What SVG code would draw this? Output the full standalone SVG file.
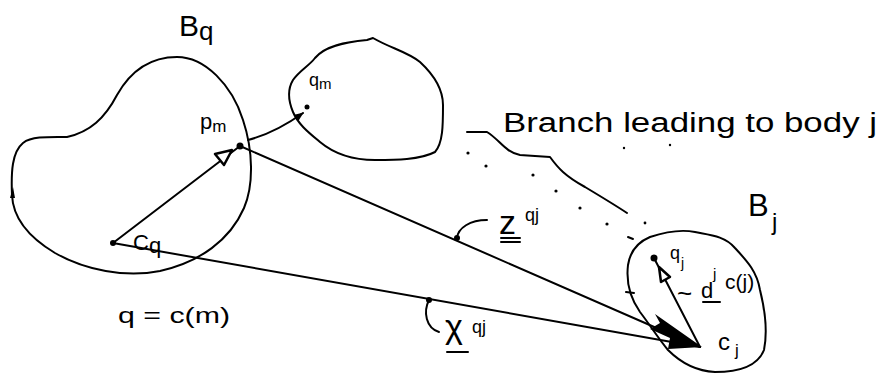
<svg xmlns="http://www.w3.org/2000/svg" width="882" height="374" viewBox="0 0 882 374">
<style>
.ln{fill:none;stroke:#000;stroke-width:2;stroke-linecap:round;stroke-linejoin:round}
.bd{fill:none;stroke:#000;stroke-width:2;stroke-linejoin:round}
.dot{fill:#000}
.t{font-family:"Liberation Sans","DejaVu Sans",sans-serif;fill:#000}
.tri{fill:#fff;stroke:#000;stroke-width:2.5;stroke-linejoin:round}
</style>
<defs>
<marker id="ah" viewBox="0 0 10 10" refX="9" refY="5" markerWidth="9" markerHeight="9" markerUnits="userSpaceOnUse" orient="auto">
<path d="M0,1 L10,5 L0,9 Z" fill="#000"/>
</marker>
</defs>
<rect width="882" height="374" fill="#fff"/>

<g id="body-Bq">
<path class="bd" d="M 67,137 C 90,132 105,118 117,95 C 130,72 150,57 177,57 C 205,57 232,85 243,120 C 253,150 254,185 244,208 C 230,240 200,262 160,271 C 125,278 85,270 55,253 C 30,238 13,220 12,195 C 11,172 12,152 23,143 C 32,136 50,137 67,137 Z"/>
<path d="M 10,198 L 13,187 L 15,198 Z" fill="#000"/>
<text class="t" x="179" y="36" font-size="30">B<tspan font-size="26" dy="4">q</tspan></text>
</g>

<g id="body-qm">
<path class="bd" d="M 367,40 L 373,38 C 390,48 408,52 420,62 C 434,75 443,90 443,105 C 443,125 443,143 435,152 C 420,160 395,160 375,160 C 350,160 332,152 320,142 C 308,132 298,124 293,112 C 288,100 287,90 293,80 C 300,70 309,66 315,58 C 325,46 345,42 367,40 Z"/>
</g>

<g id="body-Bj">
<path class="bd" d="M 650,237 C 665,232 680,229 695,232 C 710,235 725,236 735,248 C 748,262 757,272 760,290 C 765,310 768,330 764,350 C 758,365 740,372 715,372 C 695,371 680,362 668,350 C 658,338 650,325 640,312 C 630,298 626,282 628,265 C 630,252 638,242 650,237 Z"/>
<path class="ln" d="M 626,292 L 634,293"/>
<text class="t" x="748" y="216" font-size="31">B</text>
<text class="t" x="772" y="230" font-size="24">j</text>
</g>

<g id="point-Cq">
<circle class="dot" cx="113" cy="243" r="3"/>
<text class="t" x="133" y="250" font-size="22">C<tspan font-size="22" dy="3">q</tspan></text>
</g>

<g id="point-pm">
<circle class="dot" cx="240" cy="146" r="3.5"/>
<text class="t" x="200" y="129" font-size="22">p<tspan font-size="17" dy="3">m</tspan></text>
</g>

<g id="point-qm">
<circle class="dot" cx="307" cy="107" r="2.5"/>
<text class="t" x="309" y="86" font-size="18">q<tspan font-size="15" dy="3">m</tspan></text>
</g>

<g id="point-qj">
<circle class="dot" cx="654" cy="258" r="3.5"/>
<text class="t" x="670" y="259" font-size="18">q</text>
<text class="t" x="681" y="268" font-size="14">j</text>
</g>

<g id="point-Cj">
<text class="t" x="718" y="350" font-size="24">c</text>
<text class="t" x="735" y="356" font-size="17">j</text>
</g>

<g id="label-qcm">
<text class="t" x="118" y="323" font-size="22" textLength="112" lengthAdjust="spacingAndGlyphs">q = c(m)</text>
</g>

<g id="label-branch">
<text class="t" x="503" y="132" font-size="27" textLength="374" lengthAdjust="spacingAndGlyphs">Branch leading to body j</text>
<path class="ln" d="M 467,132 L 487,132 C 500,140 505,152 520,155 L 550,157 C 558,168 565,176 585,187 C 600,196 615,205 627,213"/>
<g class="dot">
<circle cx="468" cy="153" r="1.6"/><circle cx="486" cy="166" r="1.6"/>
<circle cx="533" cy="175" r="1.6"/><circle cx="556" cy="191" r="1.6"/>
<circle cx="580" cy="208" r="1.6"/><circle cx="607" cy="224" r="1.6"/>
<circle cx="645" cy="223" r="1.4"/><circle cx="624" cy="148" r="1.2"/>
<circle cx="670" cy="145" r="1.2"/>
</g>
<path class="ln" d="M 628,237 L 633,239"/>
</g>

<g id="connectors">
<path class="ln" d="M 113,243 L 240,146"/>
<polygon class="tri" points="232,150 215,154 224,165"/>
<path class="ln" d="M 248,140 Q 275,133 303,113" marker-end="url(#ah)"/>
<path class="ln" d="M 240,146 L 700,347"/>
<path class="ln" d="M 113,243 L 700,347"/>
<path d="M 655,314 L 702,347 L 668,349 L 670,338 L 650,329 L 660,323 Z" fill="#000"/>
<path class="ln" d="M 700,347 L 654,258"/>
<polygon class="tri" points="659,267 670,277 661,282"/>
</g>

<g id="label-z">
<circle class="dot" cx="457" cy="238" r="3"/>
<path class="ln" d="M 457,238 C 458,228 470,220 487,220"/>
<text class="t" x="499" y="234" font-size="34">z</text>
<path class="ln" d="M 501,238 L 520,238 M 501,242 L 520,242"/>
<text class="t" x="525" y="221" font-size="18">qj</text>
</g>

<g id="label-x">
<circle class="dot" cx="429" cy="300" r="3"/>
<path class="ln" d="M 429,300 C 423,312 426,328 439,332"/>
<text class="t" x="445" y="338" font-size="34">χ</text>
<path class="ln" d="M 447,352 L 468,352"/>
<text class="t" x="472" y="333" font-size="18">qj</text>
</g>

<g id="label-d">
<text class="t" x="677" y="302" font-size="26">~</text>
<text class="t" x="701" y="298" font-size="22">d</text>
<path class="ln" d="M 703,302 L 720,302"/>
<text class="t" x="713" y="279" font-size="15">j</text>
<text class="t" x="725" y="289" font-size="21">c(j)</text>
</g>
</svg>
